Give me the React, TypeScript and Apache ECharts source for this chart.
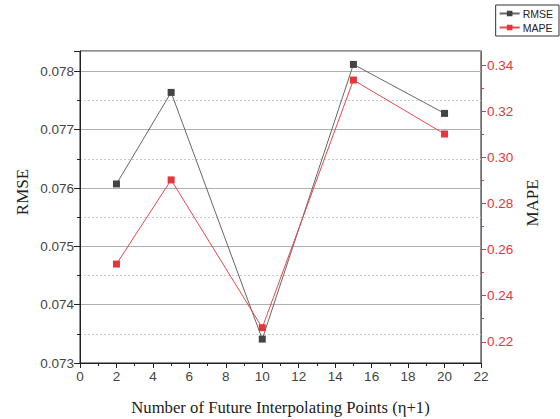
import React, { useEffect, useRef } from "react";
import * as echarts from "echarts";

const xValues = [2, 5, 10, 15, 20];
const rmseValues = [0.07607, 0.07764, 0.07341, 0.07812, 0.07728];
const mapeValues = [0.2537, 0.2902, 0.2261, 0.3335, 0.3101];
const mapeMajorTicks = [0.22, 0.24, 0.26, 0.28, 0.3, 0.32, 0.34];
const mapeMinorTicks = [0.23, 0.25, 0.27, 0.29, 0.31, 0.33];

const RED = "#e8353c";
const SANS = "'Liberation Sans', Arial, sans-serif";
const SERIF = "'Liberation Serif', 'Times New Roman', serif";

export default function App() {
  const ref = useRef<HTMLDivElement>(null);
  useEffect(() => {
    if (!ref.current) return;
    const chart = echarts.init(ref.current, null, { renderer: "svg" });
    chart.setOption({
      animation: false,
      backgroundColor: "#ffffff",
      grid: {
        left: 80,
        right: 79,
        top: 51,
        bottom: 56,
        containLabel: false,
        outerBoundsMode: "none",
        show: true,
        borderColor: "#222",
        borderWidth: 1,
        backgroundColor: "transparent",
      },
      legend: {
        orient: "vertical",
        right: 1,
        top: 5,
        borderColor: "#333",
        borderWidth: 1,
        padding: [3, 6, 3, 3],
        itemGap: 3,
        itemWidth: 20,
        itemHeight: 7,
        textStyle: { fontFamily: SANS, fontSize: 10.5, color: "#222", padding: [0, 0, 0, -2] },
        data: ["RMSE", "MAPE"],
      },
      xAxis: {
        type: "value",
        min: 0,
        max: 22,
        interval: 2,
        name: "Number of Future Interpolating Points (η+1)",
        nameLocation: "middle",
        nameGap: 36,
        nameTextStyle: { fontFamily: SERIF, fontSize: 16.7, color: "#222" },
        axisLine: { show: true, lineStyle: { color: "#222", width: 1 } },
        axisTick: { show: true, inside: false, length: 5, lineStyle: { color: "#222" } },
        minorTick: { show: true, splitNumber: 2, length: 3, lineStyle: { color: "#222" } },
        axisLabel: { fontFamily: SANS, fontSize: 13.5, color: "#444", margin: 6 },
        splitLine: { show: false },
      },
      yAxis: [
        {
          type: "value",
          position: "left",
          min: 0.073,
          max: 0.07835,
          interval: 0.001,
          axisLine: { show: true, lineStyle: { color: "#222", width: 1 } },
          axisTick: { show: true, inside: false, length: 6, lineStyle: { color: "#222" } },
          minorTick: { show: true, splitNumber: 2, length: 3, lineStyle: { color: "#222" } },
          axisLabel: {
            fontFamily: SANS,
            fontSize: 13.5,
            color: "#444",
            margin: 6,
            showMaxLabel: false,
            formatter: (v: number) => v.toFixed(3),
          },
          splitLine: { show: true, lineStyle: { color: "#b0b0b0", width: 1 } },
          minorSplitLine: { show: true, lineStyle: { color: "#c8c8c8", type: [2, 2], width: 1 } },
        },
        {
          type: "value",
          position: "right",
          min: 0.2108,
          max: 0.3461,
          axisLine: { show: true, onZero: false, lineStyle: { color: RED, width: 1 } },
          axisTick: {
            show: true,
            inside: false,
            length: 5,
            customValues: mapeMajorTicks,
            lineStyle: { color: RED },
          },
          axisLabel: {
            fontFamily: SANS,
            fontSize: 13.5,
            color: RED,
            margin: 6,
            customValues: mapeMajorTicks,
            formatter: (v: number) => v.toFixed(2),
          },
          splitLine: { show: false },
        },
        {
          type: "value",
          position: "right",
          min: 0.2108,
          max: 0.3461,
          axisLine: { show: false },
          axisTick: {
            show: true,
            inside: false,
            length: 3,
            customValues: mapeMinorTicks,
            lineStyle: { color: RED },
          },
          axisLabel: { show: false },
          splitLine: { show: false },
        },
      ],
      graphic: [
        {
          type: "text",
          x: 22,
          y: 192,
          rotation: Math.PI / 2,
          style: {
            text: "RMSE",
            font: `17px ${SERIF}`,
            fill: "#222",
            align: "center",
            verticalAlign: "middle",
          },
        },
        {
          type: "text",
          x: 532,
          y: 203,
          rotation: Math.PI / 2,
          style: {
            text: "MAPE",
            font: `17px ${SERIF}`,
            fill: "#222",
            align: "center",
            verticalAlign: "middle",
          },
        },
      ],
      series: [
        {
          name: "RMSE",
          type: "line",
          yAxisIndex: 0,
          data: xValues.map((x, i) => [x, rmseValues[i]]),
          symbol: "rect",
          symbolSize: 7,
          itemStyle: { color: "#444444" },
          lineStyle: { color: "#666666", width: 1 },
          z: 3,
        },
        {
          name: "MAPE",
          type: "line",
          yAxisIndex: 1,
          data: xValues.map((x, i) => [x, mapeValues[i]]),
          symbol: "rect",
          symbolSize: 7,
          itemStyle: { color: RED },
          lineStyle: { color: "#e8474d", width: 1 },
          z: 4,
        },
      ],
    });
    return () => chart.dispose();
  }, []);
  return (
    <div
      ref={ref}
      style={{ position: "fixed", left: 0, top: 0, width: 560, height: 419, background: "#fff" }}
    />
  );
}
